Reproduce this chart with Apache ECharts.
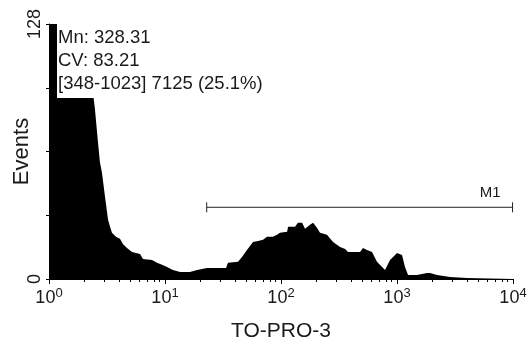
<!DOCTYPE html>
<html>
<head>
<meta charset="utf-8">
<script src="https://cdn.jsdelivr.net/npm/echarts@6/dist/echarts.min.js"></script>
<style>
  html, body { margin: 0; padding: 0; background: #fff; }
  #chart { width: 532px; height: 346px; }
</style>
</head>
<body>
<div id="chart"></div>
<script>
// TO-PRO-3 fluorescence histogram on a 4-decade log scale: intensity vs. event count
const intensity = [
  1.00, 1.17, 1.40, 1.70, 2.00, 2.30, 2.40, 2.49, 2.64, 2.75, 2.86, 3.04, 3.23, 3.36, 3.49,
  3.78, 4.09, 4.34, 4.70, 5.20, 6.09, 6.46, 7.73, 8.53, 9.42, 10.4, 11.7, 13.5, 16.4, 18.9,
  23.0, 27.0, 31.0, 33.6, 34.9, 42.6, 46.1, 50.9, 57.4, 63.4, 70.0, 75.7, 85.3, 92.4, 98.0,
  113, 115, 132, 140, 152, 161, 178, 189, 204, 217, 249, 281, 323, 357, 378,
  418, 480, 509, 551, 609, 672, 788, 871, 1000, 1105, 1172, 1245, 1487, 1814, 1925,
  2213, 2865, 4011, 10000
];
const events = [
  150, 138, 125, 115, 108, 100, 93, 85.2, 69.0, 58.5, 53.4, 41.3, 29.7, 26.2, 23.2,
  21.2, 20.2, 17.6, 15.6, 13.6, 12.6, 10.1, 9.6, 8.1, 7.1, 6.0, 4.5, 3.5, 3.5, 4.5,
  5.5, 5.5, 5.5, 5.5, 8.1, 8.6, 11.1, 14.6, 18.6, 19.1, 19.7, 21.2, 21.2, 22.2, 23.2,
  23.7, 26.2, 26.2, 28.2, 28.2, 25.2, 27.2, 28.2, 25.7, 23.2, 22.2, 18.6, 16.1, 15.1, 13.6,
  13.6, 13.6, 15.6, 14.6, 13.6, 8.6, 4.5, 9.6, 13.1, 12.1, 6.0, 2.0, 2.0, 3.0, 3.0,
  2.0, 1.0, 0.5, 0.5
];

// Axis ticks
const xDecades = [1, 10, 100, 1000, 10000];
const yLabelValues = [0, 128];

// Statistics for the M1 gate
const statsLines = ['Mn: 328.31', 'CV: 83.21', '[348-1023] 7125 (25.1%)'];
const markerName = 'M1';
const markerChannels = [348, 1023];   // 1024 channels spread over 4 decades
const markerLevel = 36;

const channelToValue = ch => Math.pow(10, ch / 256);

// minor log ticks at 2..9 within each decade
const minorTicks = [];
for (let d = 0; d < xDecades.length - 1; d++) {
  for (let m = 2; m <= 9; m++) minorTicks.push(xDecades[d] * m);
}

const histData = intensity.map((x, i) => [x, events[i]]);
const markerData = [[channelToValue(markerChannels[0]), channelToValue(markerChannels[1]), markerLevel]];

const FONT = 'Liberation Sans, Arial, sans-serif';
const chart = echarts.init(document.getElementById('chart'), null, { renderer: 'canvas' });

chart.setOption({
  animation: false,
  backgroundColor: '#fff',
  grid: { left: 49, right: 19, top: 24, bottom: 67, outerBoundsMode: 'none' },
  xAxis: [
    {
      type: 'log', logBase: 10, min: 1, max: 10000,
      name: 'TO-PRO-3', nameLocation: 'middle', nameGap: 42, nameMoveOverlap: false,
      nameTextStyle: { fontFamily: FONT, fontSize: 21, color: '#1a1a1a' },
      axisLine: { show: true, lineStyle: { color: '#000', width: 1 } },
      axisTick: { show: true, length: 5, lineStyle: { color: '#000' }, customValues: xDecades },
      axisLabel: {
        customValues: xDecades,
        margin: 8,
        formatter: v => '{b|10}{s|' + Math.round(Math.log10(v)) + '}',
        rich: {
          b: { fontFamily: FONT, fontSize: 18, color: '#1a1a1a' },
          s: { fontFamily: FONT, fontSize: 13, color: '#1a1a1a', padding: [0, 0, 9, 0] }
        }
      },
      splitLine: { show: false }
    },
    {
      type: 'log', logBase: 10, min: 1, max: 10000, gridIndex: 0, position: 'bottom',
      axisLine: { show: false },
      axisTick: { show: true, length: 3, lineStyle: { color: '#000' }, customValues: minorTicks },
      axisLabel: { show: false },
      splitLine: { show: false }
    }
  ],
  yAxis: {
    type: 'value', min: 0, max: 128, interval: 32,
    name: 'Events', nameLocation: 'middle', nameGap: 16, nameRotate: 90, nameMoveOverlap: false,
    nameTextStyle: { fontFamily: FONT, fontSize: 22, color: '#1a1a1a' },
    axisLine: { show: true, lineStyle: { color: '#000' } },
    axisTick: { show: true, length: 3, lineStyle: { color: '#000' } },
    axisLabel: {
      customValues: yLabelValues,
      rotate: 90, margin: 5,
      fontFamily: FONT, fontSize: 18, color: '#1a1a1a'
    },
    splitLine: { show: false }
  },
  series: [
    {
      type: 'line',
      data: histData,
      symbol: 'none',
      clip: true,
      lineStyle: { width: 0 },
      areaStyle: { color: '#000', opacity: 1 },
      z: 2
    },
    {
      type: 'custom',
      data: markerData,
      clip: false,
      z: 3,
      renderItem: (params, api) => {
        const p1 = api.coord([api.value(0), api.value(2)]);
        const p2 = api.coord([api.value(1), api.value(2)]);
        const style = { stroke: '#222', lineWidth: 1 };
        return {
          type: 'group',
          children: [
            { type: 'line', shape: { x1: p1[0], y1: p1[1], x2: p2[0], y2: p2[1] }, style },
            { type: 'line', shape: { x1: p1[0], y1: p1[1] - 5, x2: p1[0], y2: p1[1] + 5 }, style },
            { type: 'line', shape: { x1: p2[0], y1: p2[1] - 5, x2: p2[0], y2: p2[1] + 5 }, style },
            {
              type: 'text',
              x: p2[0] - 12, y: p2[1] - 7,
              style: { text: markerName, fontFamily: FONT, fontSize: 15, fill: '#1a1a1a', align: 'right', verticalAlign: 'bottom' }
            }
          ]
        };
      }
    }
  ],
  graphic: [
    {
      type: 'text',
      left: 57, top: 24, z: 10,
      style: {
        text: statsLines.join('\n'),
        fontFamily: FONT, fontSize: 18.5, lineHeight: 23,
        fill: '#1a1a1a',
        backgroundColor: '#fff',
        padding: [2, 4, 3, 1]
      }
    }
  ]
});
</script>
</body>
</html>
